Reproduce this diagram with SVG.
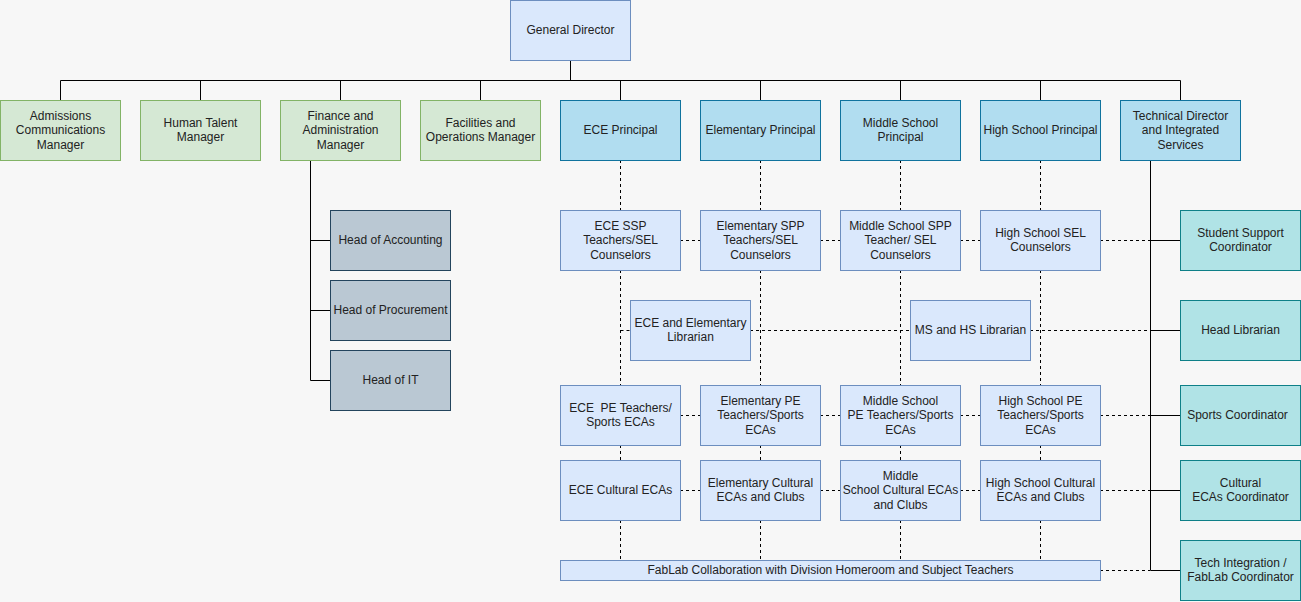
<svg xmlns="http://www.w3.org/2000/svg" width="1301" height="602" viewBox="0 0 1301 602">
<style>
text{font-family:"Liberation Sans",Arial,sans-serif;font-size:12px;fill:#222;text-anchor:middle;white-space:pre}
.gd{fill:#dae8fc;stroke:#6c8ebf}
.gr{fill:#d5e8d4;stroke:#82b366}
.pr{fill:#b1ddf0;stroke:#10739e}
.sub{fill:#bac8d3;stroke:#23445d}
.tl{fill:#b0e3e6;stroke:#0e8088}
.dv{fill:#dae8fc;stroke:#6c8ebf}
.solid{fill:none;stroke:#000;stroke-width:1}
.dash{fill:none;stroke:#000;stroke-width:1;stroke-dasharray:3 3}
</style>
<rect x="0" y="0" width="1301" height="602" fill="#f7f7f7"/>
<g id="connectors">
<path class="solid" d="M570.5 60V80.5M60.5 80.5H1180.5M60.5 80.5V100M200.5 80.5V100M340.5 80.5V100M480.5 80.5V100M620.5 80.5V100M760.5 80.5V100M900.5 80.5V100M1040.5 80.5V100M1180.5 80.5V100"/>
<path class="solid" d="M310.5 160V380.5M310.5 240.5H330M310.5 310.5H330M310.5 380.5H330"/>
<path class="solid" d="M1150.5 160V570.5M1150.5 240.5H1180M1150.5 330.5H1180M1150.5 415.5H1180M1150.5 490.5H1180M1150.5 570.5H1180"/>
<path class="dash" d="M620.5 160V210M620.5 270V385M620.5 445V460M620.5 520V563"/>
<path class="dash" d="M760.5 160V210M760.5 270V385M760.5 445V460M760.5 520V560"/>
<path class="dash" d="M900.5 160V210M900.5 270V385M900.5 445V460M900.5 520V560"/>
<path class="dash" d="M1040.5 160V210M1040.5 270V385M1040.5 445V460M1040.5 520V560"/>
<path class="dash" d="M680 240.5H700M820 240.5H840M960 240.5H980M1100 240.5H1150"/>
<path class="dash" d="M620.5 330.5H630M750 330.5H910M1030 330.5H1150"/>
<path class="dash" d="M680 415.5H700M820 415.5H840M960 415.5H980M1100 415.5H1150"/>
<path class="dash" d="M680 490.5H700M820 490.5H840M960 490.5H980M1100 490.5H1150"/>
<path class="dash" d="M1100 570.5H1150"/>
</g>
<g id="general-director"><rect class="gd" x="510.5" y="0.5" width="120" height="60"/><text x="570.5" y="34">General Director</text></g>
<g id="admissions"><rect class="gr" x="0.5" y="100.5" width="120" height="60"/><text x="60.5" y="119.5">Admissions</text><text x="60.5" y="134">Communications</text><text x="60.5" y="148.5">Manager</text></g>
<g id="human-talent"><rect class="gr" x="140.5" y="100.5" width="120" height="60"/><text x="200.5" y="126.75">Human Talent</text><text x="200.5" y="141.25">Manager</text></g>
<g id="finance"><rect class="gr" x="280.5" y="100.5" width="120" height="60"/><text x="340.5" y="119.5">Finance and</text><text x="340.5" y="134">Administration</text><text x="340.5" y="148.5">Manager</text></g>
<g id="facilities"><rect class="gr" x="420.5" y="100.5" width="120" height="60"/><text x="480.5" y="126.75">Facilities and</text><text x="480.5" y="141.25">Operations Manager</text></g>
<g id="ece-principal"><rect class="pr" x="560.5" y="100.5" width="120" height="60"/><text x="620.5" y="134">ECE Principal</text></g>
<g id="elem-principal"><rect class="pr" x="700.5" y="100.5" width="120" height="60"/><text x="760.5" y="134">Elementary Principal</text></g>
<g id="ms-principal"><rect class="pr" x="840.5" y="100.5" width="120" height="60"/><text x="900.5" y="126.75">Middle School</text><text x="900.5" y="141.25">Principal</text></g>
<g id="hs-principal"><rect class="pr" x="980.5" y="100.5" width="120" height="60"/><text x="1040.5" y="134">High School Principal</text></g>
<g id="tech-director"><rect class="pr" x="1120.5" y="100.5" width="120" height="60"/><text x="1180.5" y="119.5">Technical Director</text><text x="1180.5" y="134">and Integrated</text><text x="1180.5" y="148.5">Services</text></g>
<g id="head-accounting"><rect class="sub" x="330.5" y="210.5" width="120" height="60"/><text x="390.5" y="244">Head of Accounting</text></g>
<g id="head-procurement"><rect class="sub" x="330.5" y="280.5" width="120" height="60"/><text x="390.5" y="314">Head of Procurement</text></g>
<g id="head-it"><rect class="sub" x="330.5" y="350.5" width="120" height="60"/><text x="390.5" y="384">Head of IT</text></g>
<g id="ece-ssp"><rect class="dv" x="560.5" y="210.5" width="120" height="60"/><text x="620.5" y="229.5">ECE SSP</text><text x="620.5" y="244">Teachers/SEL</text><text x="620.5" y="258.5">Counselors</text></g>
<g id="elem-spp"><rect class="dv" x="700.5" y="210.5" width="120" height="60"/><text x="760.5" y="229.5">Elementary SPP</text><text x="760.5" y="244">Teachers/SEL</text><text x="760.5" y="258.5">Counselors</text></g>
<g id="ms-spp"><rect class="dv" x="840.5" y="210.5" width="120" height="60"/><text x="900.5" y="229.5">Middle School SPP</text><text x="900.5" y="244">Teacher/ SEL</text><text x="900.5" y="258.5">Counselors</text></g>
<g id="hs-sel"><rect class="dv" x="980.5" y="210.5" width="120" height="60"/><text x="1040.5" y="236.75">High School SEL</text><text x="1040.5" y="251.25">Counselors</text></g>
<g id="ece-elem-librarian"><rect class="dv" x="630.5" y="300.5" width="120" height="60"/><text x="690.5" y="326.75">ECE and Elementary</text><text x="690.5" y="341.25">Librarian</text></g>
<g id="ms-hs-librarian"><rect class="dv" x="910.5" y="300.5" width="120" height="60"/><text x="970.5" y="334">MS and HS Librarian</text></g>
<g id="ece-pe"><rect class="dv" x="560.5" y="385.5" width="120" height="60"/><text x="620.5" y="411.75">ECE  PE Teachers/</text><text x="620.5" y="426.25">Sports ECAs</text></g>
<g id="elem-pe"><rect class="dv" x="700.5" y="385.5" width="120" height="60"/><text x="760.5" y="404.5">Elementary PE</text><text x="760.5" y="419">Teachers/Sports</text><text x="760.5" y="433.5">ECAs</text></g>
<g id="ms-pe"><rect class="dv" x="840.5" y="385.5" width="120" height="60"/><text x="900.5" y="404.5">Middle School</text><text x="900.5" y="419">PE Teachers/Sports</text><text x="900.5" y="433.5">ECAs</text></g>
<g id="hs-pe"><rect class="dv" x="980.5" y="385.5" width="120" height="60"/><text x="1040.5" y="404.5">High School PE</text><text x="1040.5" y="419">Teachers/Sports</text><text x="1040.5" y="433.5">ECAs</text></g>
<g id="ece-cultural"><rect class="dv" x="560.5" y="460.5" width="120" height="60"/><text x="620.5" y="494">ECE Cultural ECAs</text></g>
<g id="elem-cultural"><rect class="dv" x="700.5" y="460.5" width="120" height="60"/><text x="760.5" y="486.75">Elementary Cultural</text><text x="760.5" y="501.25">ECAs and Clubs</text></g>
<g id="ms-cultural"><rect class="dv" x="840.5" y="460.5" width="120" height="60"/><text x="900.5" y="479.5">Middle</text><text x="900.5" y="494">School Cultural ECAs</text><text x="900.5" y="508.5">and Clubs</text></g>
<g id="hs-cultural"><rect class="dv" x="980.5" y="460.5" width="120" height="60"/><text x="1040.5" y="486.75">High School Cultural</text><text x="1040.5" y="501.25">ECAs and Clubs</text></g>
<g id="fablab"><rect class="dv" x="560.5" y="560.5" width="540" height="20"/><text x="830.5" y="574">FabLab Collaboration with Division Homeroom and Subject Teachers</text></g>
<g id="student-support"><rect class="tl" x="1180.5" y="210.5" width="120" height="60"/><text x="1240.5" y="236.75">Student Support</text><text x="1240.5" y="251.25">Coordinator</text></g>
<g id="head-librarian"><rect class="tl" x="1180.5" y="300.5" width="120" height="60"/><text x="1240.5" y="334">Head Librarian</text></g>
<g id="sports-coordinator"><rect class="tl" x="1180.5" y="385.5" width="120" height="60"/><text x="1237.5" y="419">Sports Coordinator</text></g>
<g id="cultural-coordinator"><rect class="tl" x="1180.5" y="460.5" width="120" height="60"/><text x="1240.5" y="486.75">Cultural</text><text x="1240.5" y="501.25">ECAs Coordinator</text></g>
<g id="tech-integration"><rect class="tl" x="1180.5" y="540.5" width="120" height="60"/><text x="1240.5" y="566.75">Tech Integration /</text><text x="1240.5" y="581.25">FabLab Coordinator</text></g>
</svg>
